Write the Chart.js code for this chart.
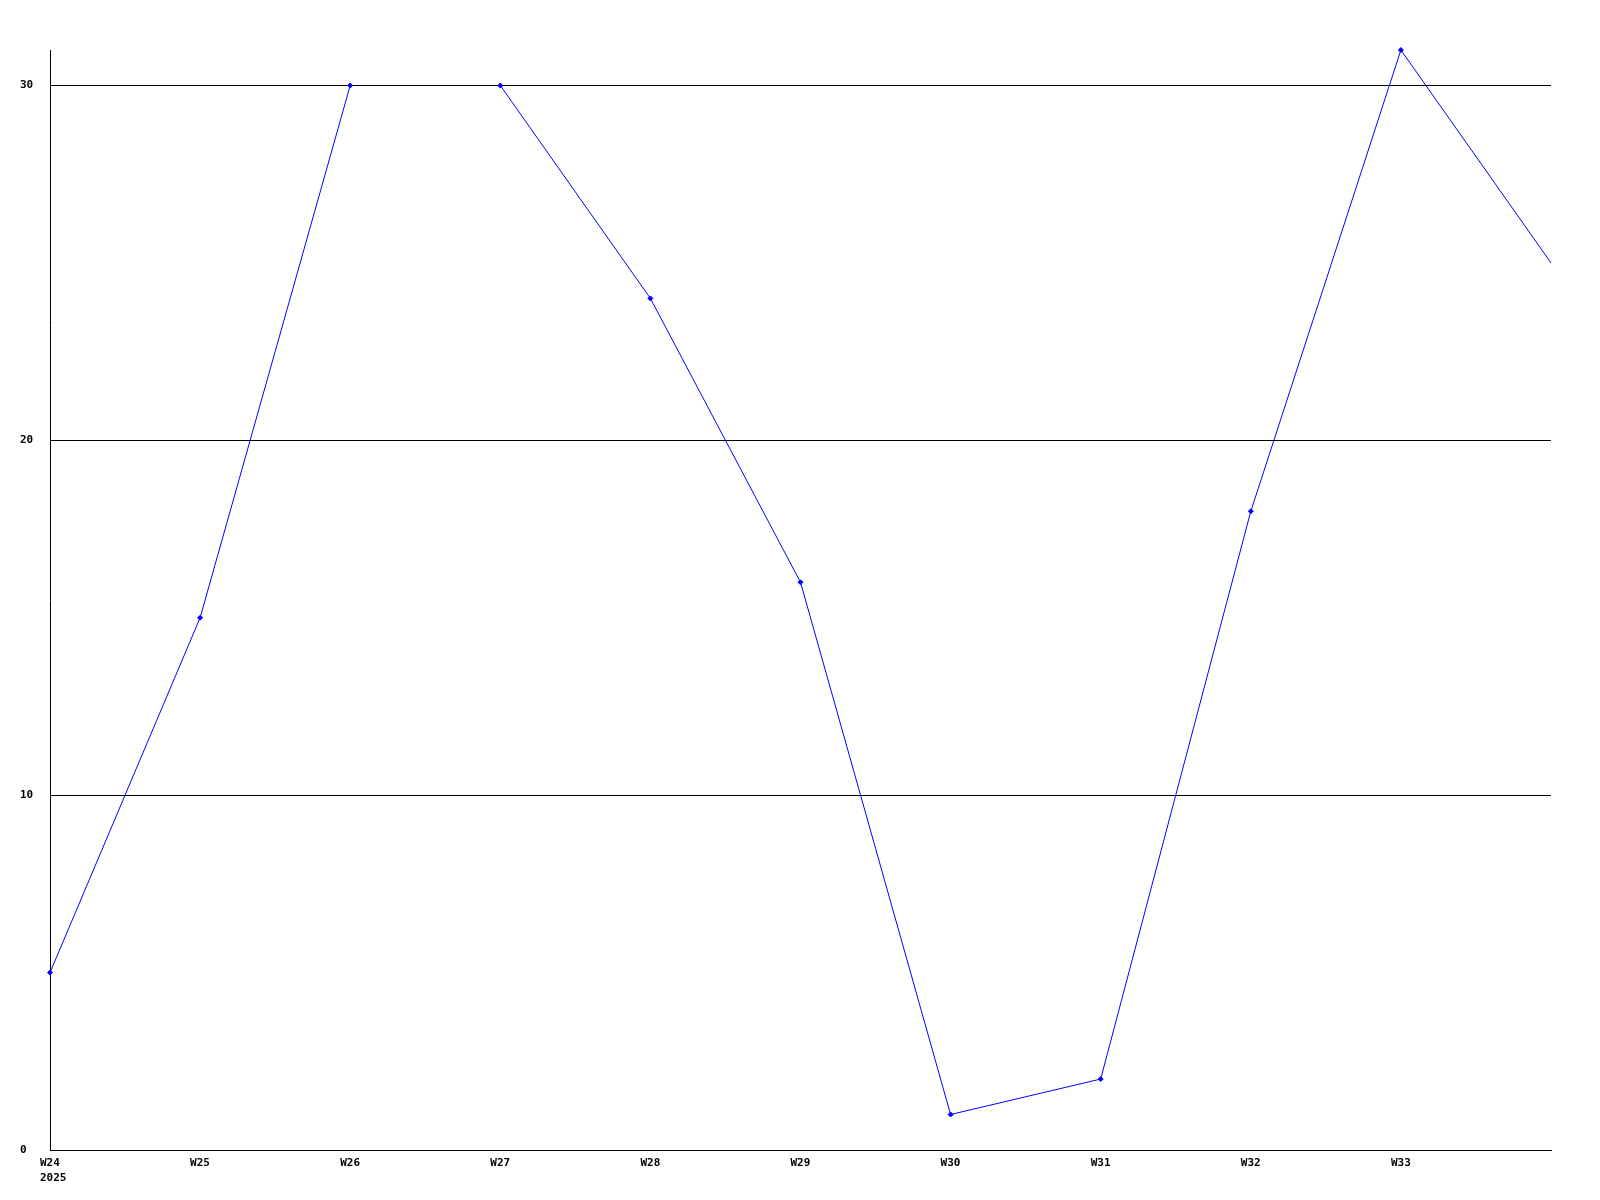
<!DOCTYPE html>
<html lang="en">
  <head>
    <meta charset="UTF-8" />
    <title>Weekly chart</title>
    <script src="https://cdn.jsdelivr.net/npm/chart.js"></script>
    <style>
      body { margin: 0; background: #fff; }
      #chart { display: block; }
    </style>
  </head>
  <body>
    <canvas id="chart" width="1600" height="1200"></canvas>
    <script>
      // data
      const weeks = ["W24", "W25", "W26", "W27", "W28", "W29", "W30", "W31", "W32", "W33", "W34"];
      const year = "2025";
      const values = [5, 15, 30, 30, 24, 16, 1, 2, 18, 31, 25];
      const gapAfter = ["W26"]; // no line drawn from these weeks to the next one
      const yTicks = [0, 10, 20, 30];
      const yMax = 31;

      const font = { family: "'DejaVu Sans Mono', monospace", size: 11, weight: "bold", lineHeight: 1.4 };
      const lastIdx = weeks.length - 1;

      new Chart(document.getElementById("chart").getContext("2d"), {
        type: "line",
        data: {
          labels: weeks,
          datasets: [
            {
              data: values,
              borderColor: "#0000ff",
              backgroundColor: "#0000ff",
              borderWidth: 1,
              tension: 0,
              clip: false,
              pointStyle: "rectRot",
              pointRadius: values.map((v, i) => (i === lastIdx ? 0 : 2.5)),
              pointBorderWidth: 1,
              segment: {
                borderColor: (ctx) =>
                  gapAfter.includes(weeks[ctx.p0DataIndex]) ? "rgba(0,0,0,0)" : undefined,
              },
            },
          ],
        },
        options: {
          responsive: false,
          animation: false,
          layout: { padding: { left: 20, right: 49, top: 50, bottom: 0 } },
          plugins: { legend: { display: false }, tooltip: { enabled: false } },
          scales: {
            x: {
              type: "category",
              offset: false,
              grid: { display: false, drawTicks: false },
              border: { display: true, color: "#000", width: 1 },
              afterFit: (scale) => { scale.height = 50; },
              ticks: {
                color: "#000",
                font: font,
                padding: 5,
                align: "start",
                labelOffset: -10,
                maxRotation: 0,
                autoSkip: false,
                callback: function (value, index) {
                  if (index === lastIdx) return "";
                  if (index === 0) return [weeks[0], year];
                  return weeks[index];
                },
              },
            },
            y: {
              min: 0,
              max: yMax,
              grid: { color: "#000", lineWidth: 1, drawTicks: false },
              border: { display: true, color: "#000", width: 1 },
              afterFit: (scale) => { scale.width = 30; },
              afterBuildTicks: (scale) => {
                scale.ticks = yTicks.map((v) => ({ value: v }));
              },
              ticks: {
                color: "#000",
                font: { family: font.family, size: font.size, weight: font.weight },
                crossAlign: "far",
                padding: 0,
              },
            },
          },
        },
      });
    </script>
  </body>
</html>
